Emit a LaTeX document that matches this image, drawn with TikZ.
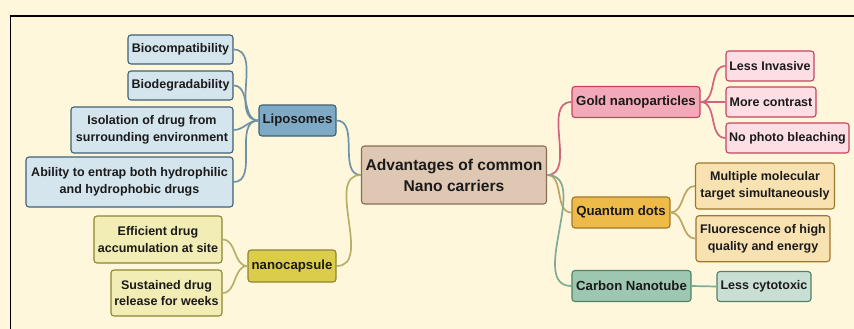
\documentclass[tikz,border=0pt]{standalone}
\usepackage{fontspec}
\setmainfont{Liberation Sans}
\definecolor{bg}{HTML}{FFF7DC}
\definecolor{txt}{HTML}{1A1A1A}
\definecolor{lipoF}{HTML}{7FAAC6}\definecolor{lipoD}{HTML}{3F6275}\definecolor{lipoC}{HTML}{D5E5EE}\definecolor{lipoL}{HTML}{6E93A7}
\definecolor{nanoF}{HTML}{DCCC4C}\definecolor{nanoD}{HTML}{8E8530}\definecolor{nanoC}{HTML}{F2ECB5}\definecolor{nanoL}{HTML}{B8B068}
\definecolor{cenF}{HTML}{DEC7B3}\definecolor{cenD}{HTML}{8B6B55}
\definecolor{goldF}{HTML}{F2A9B8}\definecolor{goldD}{HTML}{C4445F}\definecolor{goldC}{HTML}{FCDEE4}\definecolor{goldL}{HTML}{D2637C}
\definecolor{qdF}{HTML}{EEBB48}\definecolor{qdD}{HTML}{A07829}\definecolor{qdC}{HTML}{F8E2B2}\definecolor{qdL}{HTML}{BFA462}
\definecolor{cntF}{HTML}{9DC7B0}\definecolor{cntD}{HTML}{4F8269}\definecolor{cntC}{HTML}{C9DFD3}\definecolor{cntL}{HTML}{80AC96}
\tikzset{
  box/.style={draw, rounded corners=3pt, line width=1.1pt, inner sep=0pt, align=center, text=txt},
  leaf/.style={box, font=\bfseries\fontsize{12.5}{16.5}\selectfont},
  mid/.style={box, font=\bfseries\fontsize{13.2}{16.5}\selectfont},
  cen/.style={box, font=\bfseries\fontsize{15.6}{21}\selectfont, fill=cenF, draw=cenD},
  conn/.style={line width=1.7pt},
}
\begin{document}
\begin{tikzpicture}[x=1pt,y=-1pt]
\fill[bg] (0,0) rectangle (854,329);
\useasboundingbox (0,0) rectangle (854,329);
\draw[line width=1.4pt, black] (10.5,329) -- (10.5,16) -- (854,16);

% central
\node[cen, minimum width=185, minimum height=58] (c) at (454,175) {Advantages of common\\Nano carriers};

% liposomes group
\node[mid, fill=lipoF, draw=lipoD, minimum width=77, minimum height=31] (lipo) at (297.5,120.5) {Liposomes};
\node[leaf, fill=lipoC, draw=lipoD, minimum width=105, minimum height=29] (bio1) at (180.5,49.5) {Biocompatibility};
\node[leaf, fill=lipoC, draw=lipoD, minimum width=105, minimum height=29] (bio2) at (180.5,85.5) {Biodegradability};
\node[leaf, fill=lipoC, draw=lipoD, minimum width=162, minimum height=46] (iso) at (152,130) {Isolation of drug from\\surrounding environment};
\node[leaf, fill=lipoC, draw=lipoD, minimum width=207, minimum height=50] (abil) at (129.5,182) {Ability to entrap both hydrophilic\\and hydrophobic drugs};

% nanocapsule group
\node[mid, fill=nanoF, draw=nanoD, minimum width=88, minimum height=32] (nano) at (292,266) {nanocapsule};
\node[leaf, fill=nanoC, draw=nanoD, minimum width=128, minimum height=47] (eff) at (158,239.5) {Efficient drug\\accumulation at site};
\node[leaf, fill=nanoC, draw=nanoD, minimum width=111, minimum height=46] (sus) at (166.5,293) {Sustained drug\\release for weeks};

% gold group
\node[mid, fill=goldF, draw=goldD, minimum width=128, minimum height=31] (gold) at (636,102) {Gold nanoparticles};
\node[leaf, fill=goldC, draw=goldD, minimum width=88, minimum height=30] (less) at (770,66) {Less Invasive};
\node[leaf, fill=goldC, draw=goldD, minimum width=90, minimum height=30] (more) at (771,102) {More contrast};
\node[leaf, fill=goldC, draw=goldD, minimum width=123, minimum height=30] (nopho) at (787.5,138) {No photo bleaching};

% quantum dots group
\node[mid, fill=qdF, draw=qdD, minimum width=98, minimum height=31] (qd) at (621,212.5) {Quantum dots};
\node[leaf, fill=qdC, draw=qdD, minimum width=139, minimum height=46] (mult) at (765,186) {Multiple molecular\\target simultaneously};
\node[leaf, fill=qdC, draw=qdD, minimum width=134, minimum height=46] (fluo) at (763,238.7) {Fluorescence of high\\quality and energy};

% carbon nanotube group
\node[mid, fill=cntF, draw=cntD, minimum width=119, minimum height=31] (cnt) at (631.5,286) {Carbon Nanotube};
\node[leaf, fill=cntC, draw=cntD, minimum width=94, minimum height=30] (cyto) at (764,286.5) {Less cytotoxic};

% connectors
\begin{scope}[on background layer/.style={}]
\draw[conn, lipoL] (c.west) to[out=180,in=0] (lipo.east);
\draw[conn, nanoL] (c.west) to[out=180,in=0] (nano.east);
\draw[conn, goldL] (c.east) to[out=0,in=180] (gold.west);
\draw[conn, qdL] (c.east) to[out=0,in=180] (qd.west);
\draw[conn, cntL] (c.east) to[out=0,in=180] (cnt.west);

\draw[conn, lipoL] (lipo.west) to[out=180,in=0] (bio1.east);
\draw[conn, lipoL] (lipo.west) to[out=180,in=0] (bio2.east);
\draw[conn, lipoL] (lipo.west) to[out=180,in=0] (iso.east);
\draw[conn, lipoL] (lipo.west) to[out=180,in=0] (abil.east);

\draw[conn, nanoL] (nano.west) to[out=180,in=0] (eff.east);
\draw[conn, nanoL] (nano.west) to[out=180,in=0] (sus.east);

\draw[conn, goldL] (gold.east) to[out=0,in=180] (less.west);
\draw[conn, goldL] (gold.east) to[out=0,in=180] (more.west);
\draw[conn, goldL] (gold.east) to[out=0,in=180] (nopho.west);

\draw[conn, qdL] (qd.east) to[out=0,in=180] (mult.west);
\draw[conn, qdL] (qd.east) to[out=0,in=180] (fluo.west);

\draw[conn, cntL] (cnt.east) -- (cyto.west);
\end{scope}
\end{tikzpicture}
\end{document}
